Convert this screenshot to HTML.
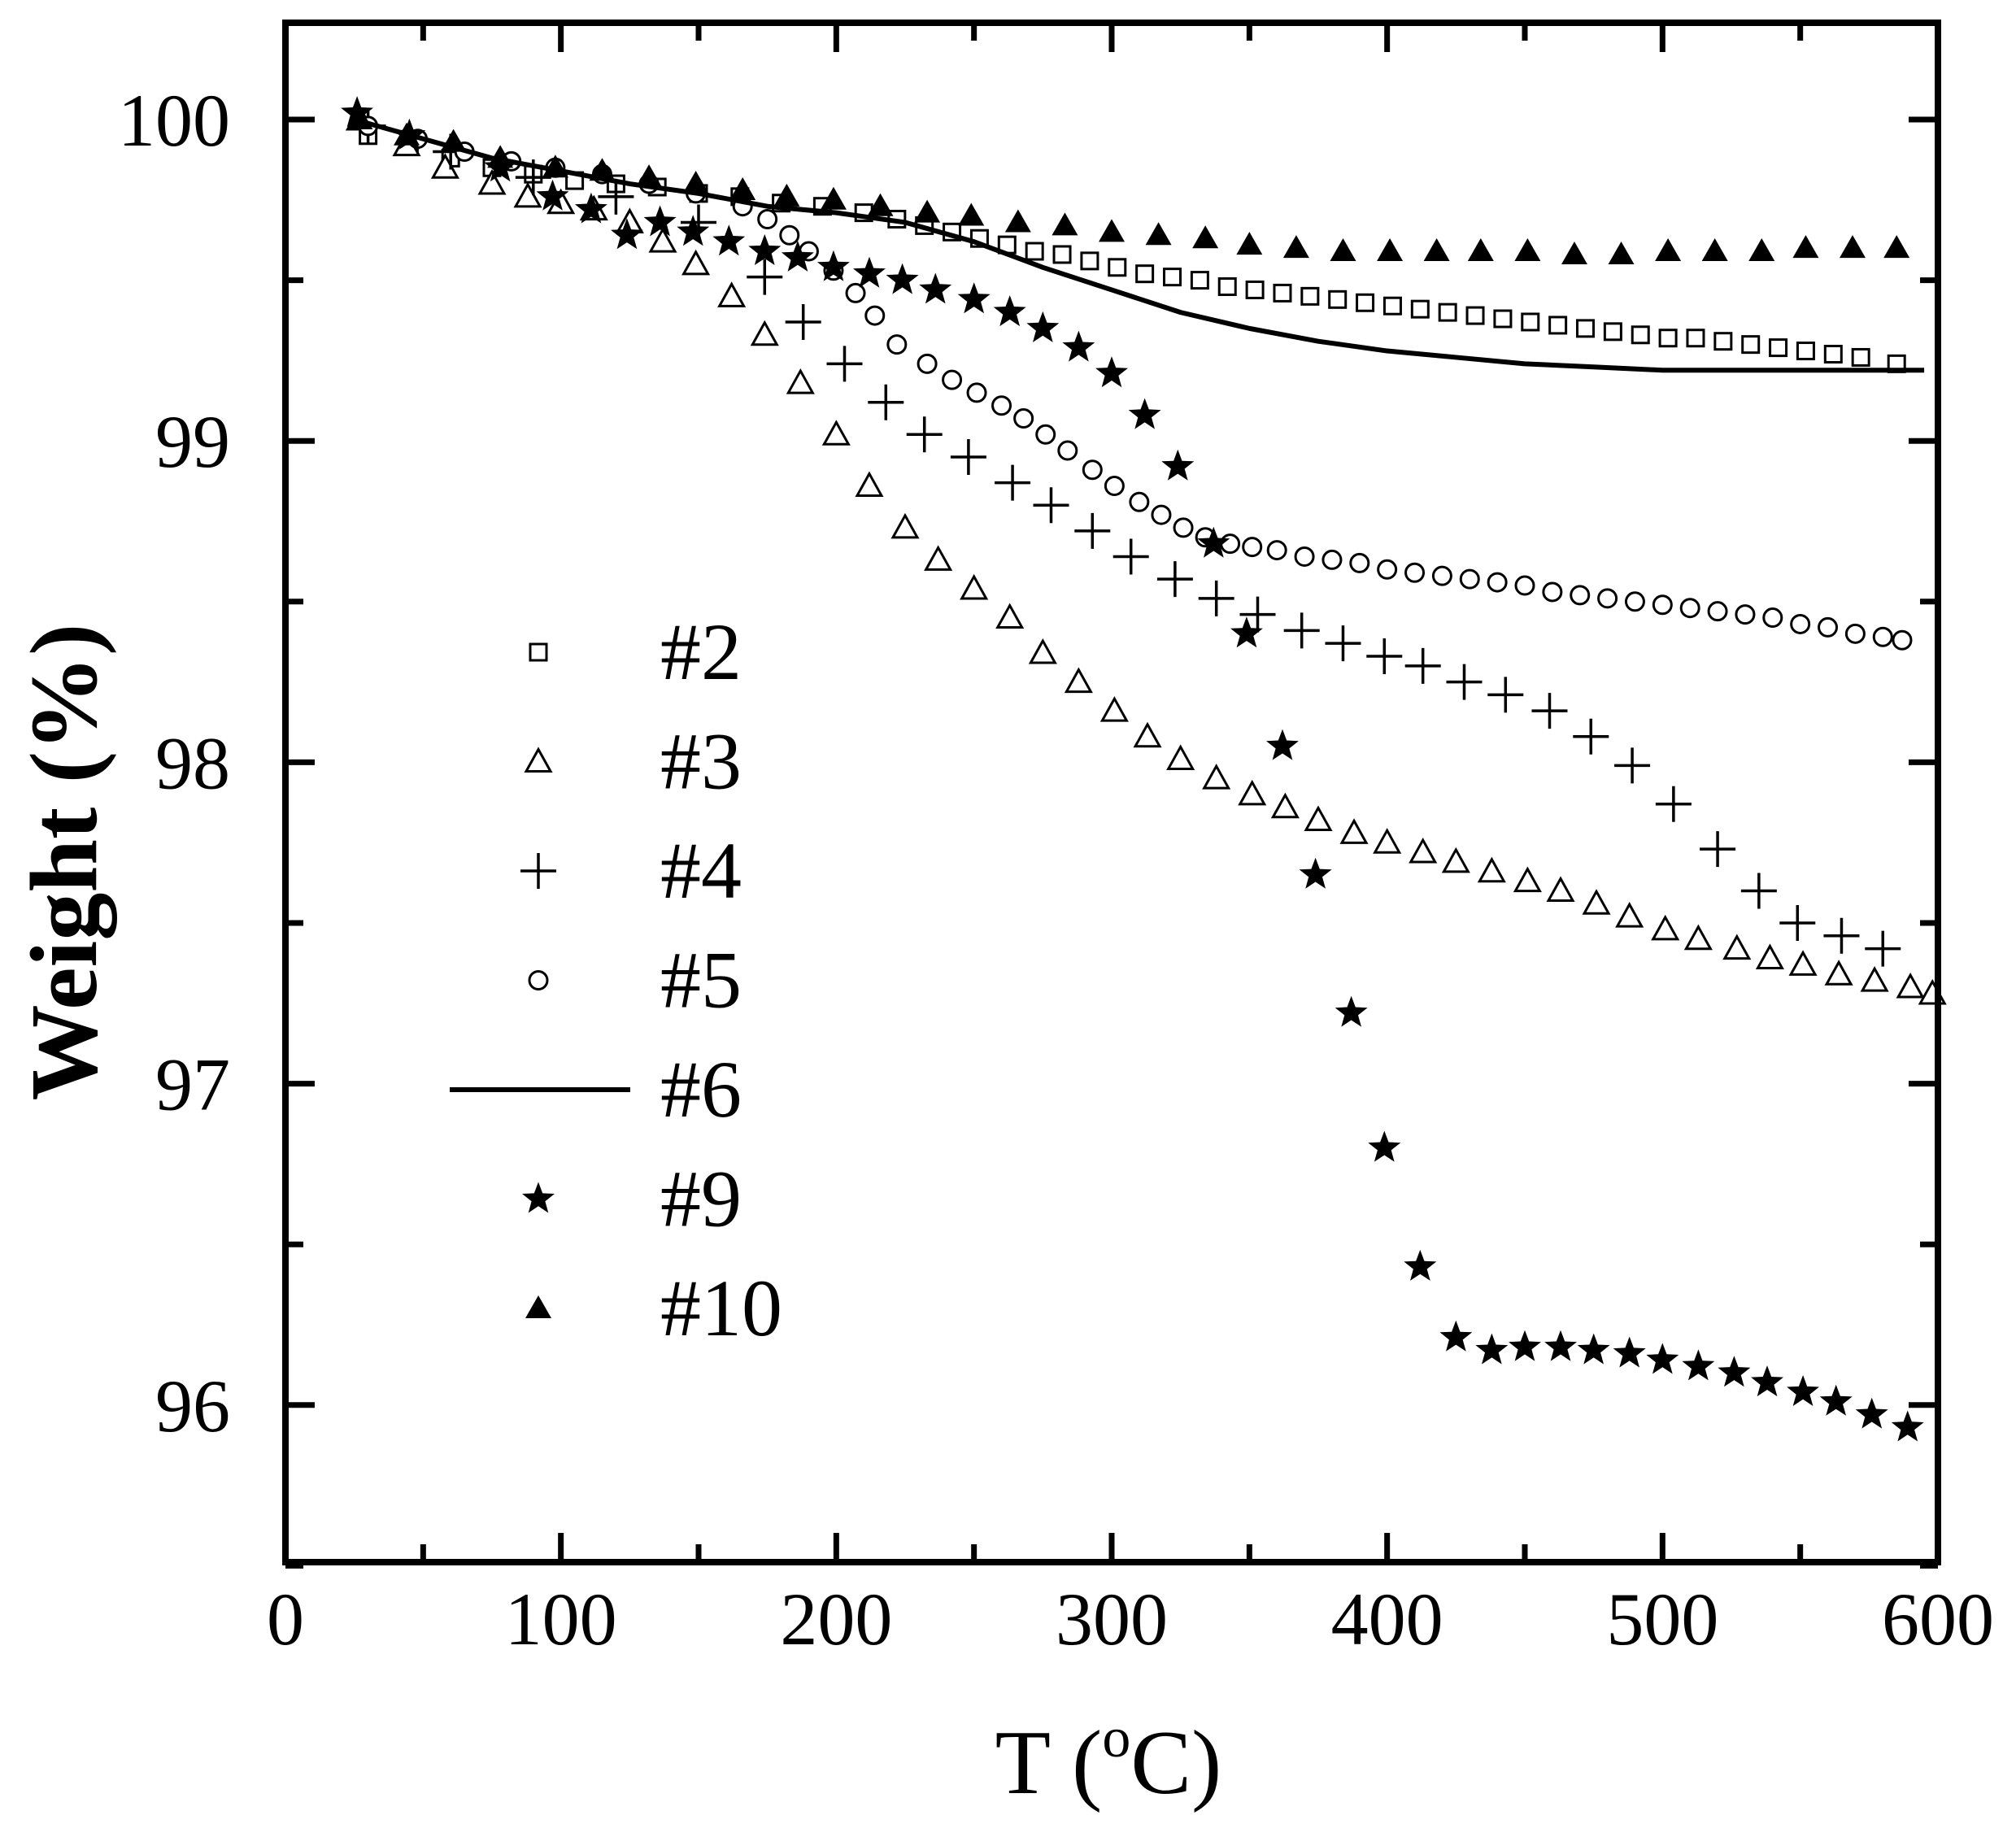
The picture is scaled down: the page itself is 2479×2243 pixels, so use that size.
<!DOCTYPE html>
<html><head><meta charset="utf-8"><style>
html,body{margin:0;padding:0;background:#fff}
svg{display:block}
text{font-family:"Liberation Serif",serif;fill:#000}
</style></head><body>
<svg id="chart" width="2479" height="2243" viewBox="0 0 2479 2243" xmlns="http://www.w3.org/2000/svg">
<g id="ticks"></g>
<g id="series"></g>
<rect x="351" y="28" width="2032" height="1893" fill="none" stroke="#000" stroke-width="8"/>
<g id="ticklabels"></g>
<text transform="translate(118,1060) rotate(-90)" text-anchor="middle" font-size="118" font-weight="bold">Weight (%)</text>
<text x="1363" y="2205" text-anchor="middle" font-size="112">T (<tspan font-size="70" dy="-45">o</tspan><tspan dy="45">C)</tspan></text>
<g id="legend"></g>
</svg>
<script>
const xTicks=[0,100,200,300,400,500,600];
const yTicks=[96,97,98,99,100];
const t2=[30,45,60,75,90,105,120,135,150,165,180,195,210,222,232,242,252,262,272,282,292,302,312,322,332,342,352,362,372,382,392,402,412,422,432,442,452,462,472,482,492,502,512,522,532,542,552,562,572,585];
const w2=[99.95,99.92,99.88,99.85,99.83,99.81,99.8,99.79,99.77,99.76,99.74,99.73,99.71,99.69,99.67,99.65,99.63,99.61,99.59,99.58,99.56,99.54,99.52,99.51,99.5,99.48,99.47,99.46,99.45,99.44,99.43,99.42,99.41,99.4,99.39,99.38,99.37,99.36,99.35,99.34,99.33,99.32,99.32,99.31,99.3,99.29,99.28,99.27,99.26,99.24];
const t3=[27,44,58,75,88,100,112,125,137,149,162,174,187,200,212,225,237,250,263,275,288,301,313,325,338,351,363,375,388,400,413,425,438,451,463,476,488,501,513,527,539,551,564,577,590,598];
const w3=[100,99.92,99.85,99.8,99.76,99.74,99.72,99.68,99.62,99.55,99.45,99.33,99.18,99.02,98.86,98.73,98.63,98.54,98.45,98.34,98.25,98.16,98.08,98.01,97.95,97.9,97.86,97.82,97.78,97.75,97.72,97.69,97.66,97.63,97.6,97.56,97.52,97.48,97.45,97.42,97.39,97.37,97.34,97.32,97.3,97.28];
const t4=[30,60,90,120,150,174,188,203,218,232,248,264,278,293,307,323,338,353,369,384,399,413,428,443,459,474,489,504,520,535,549,565,580];
const w4=[99.98,99.9,99.82,99.76,99.68,99.51,99.37,99.24,99.12,99.02,98.95,98.87,98.8,98.72,98.64,98.57,98.51,98.46,98.41,98.37,98.33,98.3,98.25,98.21,98.16,98.08,97.99,97.87,97.73,97.6,97.5,97.46,97.42];
const t5=[30,48,65,82,98,115,132,149,166,175,183,190,199,207,214,222,233,242,251,260,268,276,284,293,301,310,318,326,334,343,351,360,370,380,390,400,410,420,430,440,450,460,470,480,490,500,510,520,530,540,550,560,570,580,587];
const w5=[99.98,99.94,99.9,99.87,99.85,99.83,99.8,99.77,99.73,99.69,99.64,99.59,99.53,99.46,99.39,99.3,99.24,99.19,99.15,99.11,99.07,99.02,98.97,98.91,98.86,98.81,98.77,98.73,98.7,98.68,98.67,98.66,98.64,98.63,98.62,98.6,98.59,98.58,98.57,98.56,98.55,98.53,98.52,98.51,98.5,98.49,98.48,98.47,98.46,98.45,98.43,98.42,98.4,98.39,98.38];
const t6=[25,50,75,100,125,150,175,200,225,250,275,300,325,350,375,400,425,450,475,500,525,550,575,595];
const w6=[100,99.94,99.88,99.84,99.8,99.77,99.73,99.71,99.68,99.62,99.54,99.47,99.4,99.35,99.31,99.28,99.26,99.24,99.23,99.22,99.22,99.22,99.22,99.22];
const t9=[26,45,78,97,111,124,136,148,161,174,186,199,212,224,236,250,263,275,288,300,312,324,337,349,362,374,387,399,412,425,438,450,463,475,488,500,513,526,538,551,563,576,589];
const w9=[100.02,99.95,99.85,99.76,99.72,99.64,99.68,99.65,99.62,99.59,99.57,99.54,99.52,99.5,99.47,99.44,99.4,99.35,99.29,99.21,99.08,98.92,98.68,98.4,98.05,97.65,97.22,96.8,96.43,96.21,96.17,96.18,96.18,96.17,96.16,96.14,96.12,96.1,96.07,96.04,96.01,95.97,95.93];
const t10=[27,44,61,78,98,115,132,149,166,182,199,216,233,249,266,283,300,317,334,350,367,384,401,418,434,451,468,485,502,519,536,552,569,585];
const w10=[100,99.95,99.93,99.88,99.85,99.84,99.82,99.8,99.78,99.76,99.75,99.73,99.71,99.7,99.68,99.67,99.65,99.64,99.63,99.61,99.6,99.59,99.59,99.59,99.59,99.59,99.58,99.58,99.59,99.59,99.59,99.6,99.6,99.6];

const NS='http://www.w3.org/2000/svg';
const X=v=>351+v*(2032/600);
const Y=v=>147+(100-v)*395.2;
function mk(tag,attrs,parent){const e=document.createElementNS(NS,tag);for(const k in attrs)e.setAttribute(k,attrs[k]);parent.appendChild(e);return e;}
const gT=document.getElementById('ticks'),gL=document.getElementById('ticklabels'),gS=document.getElementById('series'),gLeg=document.getElementById('legend');
for(let v=0;v<=600;v+=50){const major=v%100===0;const L=major?36:22;const x=X(v);
 let a=mk('line',{x1:x,y1:1921,x2:x,y2:1921-L,stroke:'#000','stroke-width':7},gT);
 
 
 let b=mk('line',{x1:x,y1:28,x2:x,y2:28+L,stroke:'#000','stroke-width':7},gT);
 
 }
for(let v=95.5;v<=100.3;v+=0.5){const major=Math.abs(v-Math.round(v))<1e-6;const L=major?36:22;const y=Y(v);
 let a=mk('line',{x1:351,y1:y,x2:351+L,y2:y,stroke:'#000','stroke-width':7},gT);
 
 
 let b=mk('line',{x1:2383,y1:y,x2:2383-L,y2:y,stroke:'#000','stroke-width':7},gT);
 
 }
xTicks.forEach(v=>{const t=mk('text',{x:X(v),y:2022,'text-anchor':'middle','font-size':92},gL);t.textContent=v;
 
 });
yTicks.forEach(v=>{const t=mk('text',{x:283,y:Y(v)+32,'text-anchor':'end','font-size':92},gL);t.textContent=v;
 
 });
function star(cx,cy,r){let p=[];for(let i=0;i<10;i++){const rr=i%2?r*0.42:r;const a=-Math.PI/2+i*Math.PI/5;p.push((cx+rr*Math.cos(a)).toFixed(1)+','+(cy+rr*Math.sin(a)).toFixed(1));}return p.join(' ');}
function marker(type,cx,cy,g){let e;
 if(type==='sq')e=mk('rect',{x:cx-10,y:cy-10,width:20,height:20,fill:'#fff',stroke:'#000','stroke-width':3},g);
 else if(type==='tri')e=mk('polygon',{points:`${cx},${cy-15} ${cx-15},${cy+12} ${cx+15},${cy+12}`,fill:'#fff',stroke:'#000','stroke-width':3},g);
 else if(type==='ftri')e=mk('polygon',{points:`${cx},${cy-16} ${cx-16},${cy+12} ${cx+16},${cy+12}`,fill:'#000'},g);
 else if(type==='plus')e=mk('path',{d:`M${cx-22},${cy}H${cx+22}M${cx},${cy-22}V${cy+22}`,stroke:'#000','stroke-width':3.5,fill:'none'},g);
 else if(type==='circ')e=mk('circle',{cx:cx,cy:cy,r:11,fill:'#fff',stroke:'#000','stroke-width':3},g);
 else if(type==='star')e=mk('polygon',{points:star(cx,cy,21),fill:'#000'},g);
 return e;}
function scatter(ts,ws,type,name){const g=mk('g',{},gS);
 
 
 ts.forEach((t,i)=>{const e=marker(type,X(t),Y(ws[i]),g);
  
  });}
scatter(t2,w2,'sq','series-2');
scatter(t3,w3,'tri','series-3');
scatter(t4,w4,'plus','series-4');
scatter(t5,w5,'circ','series-5');
const line6=mk('polyline',{points:t6.map((t,i)=>X(t)+','+Y(w6[i])).join(' '),fill:'none',stroke:'#000','stroke-width':6,'stroke-linejoin':'round'},gS);


scatter(t9,w9,'star','series-9');
scatter(t10,w10,'ftri','series-10');
const legNames=['#2','#3','#4','#5','#6','#9','#10'];
const legTypes=['sq','tri','plus','circ','line','star','ftri'];
legNames.forEach((n,i)=>{const y=802+i*134.5;const g=mk('g',{},gLeg);
 
 
 if(legTypes[i]==='line')mk('line',{x1:553,y1:y,x2:775,y2:y,stroke:'#000','stroke-width':6},g);
 else marker(legTypes[i],662,y,g);
 const t=mk('text',{x:812,y:y+33,'font-size':100},g);t.textContent=n;});
</script>
</body></html>
